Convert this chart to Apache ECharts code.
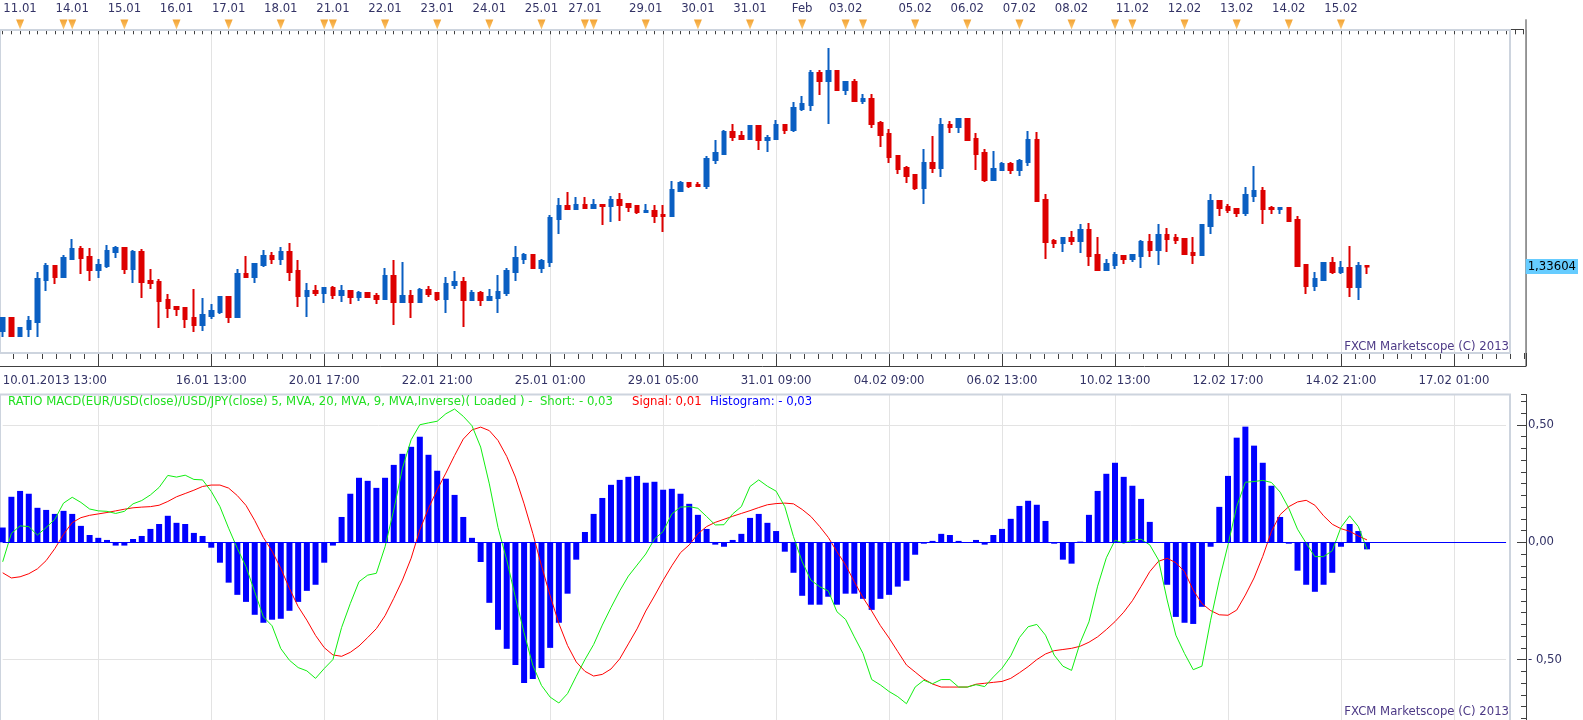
<!DOCTYPE html>
<html>
<head>
<meta charset="utf-8">
<script src="https://cdn.jsdelivr.net/npm/echarts@6.0.0/dist/echarts.min.js"></script>
<style>
  html, body { margin: 0; padding: 0; background: #fff; }
  #chart { width: 1583px; height: 720px; }
</style>
</head>
<body>
<div id="chart"></div>
<script>
// 4h candles, EUR/USD
const opens = [
  1.3296, 1.3309, 1.3291, 1.3298, 1.3305, 1.3347, 1.3361, 1.3350, 1.3368, 1.3378,
  1.3370, 1.3357, 1.3361, 1.3375, 1.3379, 1.3358, 1.3375, 1.3346, 1.3345, 1.3327,
  1.3320, 1.3319, 1.3309, 1.3302, 1.3311, 1.3315, 1.3330, 1.3310, 1.3353, 1.3350,
  1.3362, 1.3371, 1.3368, 1.3375, 1.3356, 1.3331, 1.3336, 1.3334, 1.3339, 1.3332,
  1.3336, 1.3330, 1.3334, 1.3331, 1.3328, 1.3351, 1.3325, 1.3331, 1.3325, 1.3337,
  1.3334, 1.3328, 1.3342, 1.3345, 1.3327, 1.3334, 1.3327, 1.3329, 1.3334, 1.3355,
  1.3368, 1.3372, 1.3359, 1.3365, 1.3408, 1.3421, 1.3418, 1.3422, 1.3419, 1.3422,
  1.3421, 1.3427, 1.3423, 1.3421, 1.3415, 1.3416, 1.3412, 1.3411, 1.3436, 1.3444,
  1.3442, 1.3441, 1.3467, 1.3473, 1.3495, 1.3491, 1.3488, 1.3501, 1.3487, 1.3488,
  1.3502, 1.3497, 1.3518, 1.3522, 1.3554, 1.3546, 1.3556, 1.3537, 1.3545, 1.3526,
  1.3528, 1.3504, 1.3493, 1.3471, 1.3459, 1.3452, 1.3439, 1.3464, 1.3459, 1.3502,
  1.3500, 1.3508, 1.3488, 1.3474, 1.3447, 1.3457, 1.3463, 1.3457, 1.3465, 1.3487,
  1.3427, 1.3386, 1.3384, 1.3389, 1.3386, 1.3397, 1.3372, 1.3357, 1.3362, 1.3371,
  1.3368, 1.3371, 1.3385, 1.3377, 1.3392, 1.3389, 1.3388, 1.3374, 1.3372, 1.3401,
  1.3426, 1.3420, 1.3418, 1.3414, 1.3431, 1.3436, 1.3419, 1.3418, 1.3419, 1.3407,
  1.3362, 1.3341, 1.3347, 1.3364, 1.3355, 1.3359, 1.3340, 1.3361
];
const closes = [
  1.3309, 1.3291, 1.3299, 1.3306, 1.3348, 1.3361, 1.3350, 1.3369, 1.3378, 1.3369,
  1.3357, 1.3362, 1.3376, 1.3379, 1.3358, 1.3375, 1.3345, 1.3344, 1.3326, 1.3319,
  1.3318, 1.3308, 1.3302, 1.3312, 1.3316, 1.3330, 1.3310, 1.3353, 1.3350, 1.3363,
  1.3371, 1.3368, 1.3375, 1.3355, 1.3331, 1.3336, 1.3334, 1.3339, 1.3332, 1.3336,
  1.3330, 1.3334, 1.3330, 1.3328, 1.3351, 1.3325, 1.3331, 1.3325, 1.3337, 1.3333,
  1.3328, 1.3343, 1.3345, 1.3327, 1.3334, 1.3327, 1.3330, 1.3335, 1.3356, 1.3369,
  1.3372, 1.3359, 1.3366, 1.3409, 1.3421, 1.3418, 1.3422, 1.3419, 1.3422, 1.3421,
  1.3427, 1.3422, 1.3420, 1.3415, 1.3416, 1.3411, 1.3411, 1.3437, 1.3444, 1.3441,
  1.3441, 1.3468, 1.3474, 1.3495, 1.3490, 1.3488, 1.3501, 1.3487, 1.3489, 1.3502,
  1.3497, 1.3519, 1.3523, 1.3554, 1.3546, 1.3556, 1.3537, 1.3545, 1.3526, 1.3528,
  1.3503, 1.3492, 1.3470, 1.3458, 1.3451, 1.3439, 1.3464, 1.3459, 1.3502, 1.3500,
  1.3508, 1.3487, 1.3473, 1.3447, 1.3458, 1.3463, 1.3457, 1.3466, 1.3487, 1.3426,
  1.3385, 1.3384, 1.3389, 1.3386, 1.3397, 1.3371, 1.3357, 1.3363, 1.3372, 1.3368,
  1.3372, 1.3385, 1.3377, 1.3392, 1.3388, 1.3387, 1.3373, 1.3372, 1.3402, 1.3426,
  1.3419, 1.3417, 1.3414, 1.3432, 1.3436, 1.3418, 1.3418, 1.3419, 1.3406, 1.3361,
  1.3341, 1.3348, 1.3364, 1.3355, 1.3359, 1.3340, 1.3361, 1.33604
];
const highs = [
  1.3309, 1.3309, 1.3300, 1.3311, 1.3355, 1.3364, 1.3361, 1.3372, 1.3388, 1.3381,
  1.3379, 1.3368, 1.3382, 1.3381, 1.3380, 1.3377, 1.3378, 1.3358, 1.3348, 1.3333,
  1.3320, 1.3319, 1.3338, 1.3329, 1.3323, 1.3331, 1.3330, 1.3358, 1.3371, 1.3364,
  1.3377, 1.3375, 1.3380, 1.3384, 1.3367, 1.3344, 1.3342, 1.3340, 1.3341, 1.3342,
  1.3336, 1.3336, 1.3334, 1.3334, 1.3359, 1.3367, 1.3365, 1.3337, 1.3339, 1.3341,
  1.3335, 1.3350, 1.3356, 1.3350, 1.3337, 1.3336, 1.3338, 1.3352, 1.3359, 1.3381,
  1.3374, 1.3373, 1.3368, 1.3412, 1.3429, 1.3435, 1.3430, 1.3430, 1.3428, 1.3423,
  1.3431, 1.3434, 1.3423, 1.3422, 1.3423, 1.3422, 1.3422, 1.3446, 1.3446, 1.3444,
  1.3445, 1.3471, 1.3487, 1.3497, 1.3503, 1.3496, 1.3501, 1.3501, 1.3492, 1.3507,
  1.3502, 1.3525, 1.3531, 1.3557, 1.3557, 1.3579, 1.3556, 1.3545, 1.3548, 1.3533,
  1.3533, 1.3506, 1.3498, 1.3471, 1.3461, 1.3452, 1.3478, 1.3491, 1.3509, 1.3506,
  1.3508, 1.3508, 1.3494, 1.3478, 1.3476, 1.3465, 1.3465, 1.3468, 1.3496, 1.3495,
  1.3433, 1.3388, 1.3389, 1.3396, 1.3403, 1.3404, 1.3390, 1.3368, 1.3375, 1.3371,
  1.3372, 1.3387, 1.3393, 1.3403, 1.3399, 1.3393, 1.3388, 1.3390, 1.3402, 1.3433,
  1.3426, 1.3423, 1.3418, 1.3440, 1.3461, 1.3440, 1.3421, 1.3419, 1.3420, 1.3411,
  1.3362, 1.3355, 1.3364, 1.3370, 1.3366, 1.3381, 1.3365, 1.3362
];
const lows = [
  1.3290, 1.3291, 1.3291, 1.3290, 1.3290, 1.3336, 1.3343, 1.3350, 1.3368, 1.3353,
  1.3346, 1.3349, 1.3359, 1.3369, 1.3353, 1.3344, 1.3329, 1.3338, 1.3299, 1.3309,
  1.3311, 1.3299, 1.3295, 1.3296, 1.3308, 1.3313, 1.3304, 1.3310, 1.3350, 1.3344,
  1.3360, 1.3363, 1.3362, 1.3346, 1.3320, 1.3310, 1.3331, 1.3324, 1.3328, 1.3325,
  1.3323, 1.3326, 1.3329, 1.3323, 1.3327, 1.3302, 1.3325, 1.3309, 1.3325, 1.3330,
  1.3326, 1.3314, 1.3338, 1.3300, 1.3327, 1.3321, 1.3327, 1.3314, 1.3331, 1.3346,
  1.3363, 1.3359, 1.3354, 1.3360, 1.3393, 1.3418, 1.3418, 1.3418, 1.3418, 1.3402,
  1.3405, 1.3406, 1.3415, 1.3413, 1.3415, 1.3404, 1.3395, 1.3411, 1.3436, 1.3439,
  1.3440, 1.3438, 1.3463, 1.3472, 1.3486, 1.3488, 1.3488, 1.3477, 1.3475, 1.3487,
  1.3493, 1.3495, 1.3516, 1.3516, 1.3532, 1.3503, 1.3537, 1.3532, 1.3526, 1.3523,
  1.3499, 1.3480, 1.3464, 1.3453, 1.3444, 1.3437, 1.3423, 1.3454, 1.3450, 1.3494,
  1.3494, 1.3487, 1.3457, 1.3445, 1.3447, 1.3456, 1.3453, 1.3451, 1.3461, 1.3426,
  1.3368, 1.3379, 1.3375, 1.3382, 1.3374, 1.3361, 1.3357, 1.3357, 1.3358, 1.3363,
  1.3365, 1.3359, 1.3370, 1.3362, 1.3375, 1.3383, 1.3372, 1.3363, 1.3371, 1.3393,
  1.3411, 1.3414, 1.3410, 1.3411, 1.3425, 1.3403, 1.3413, 1.3413, 1.3405, 1.3361,
  1.3333, 1.3336, 1.3346, 1.3353, 1.3353, 1.3330, 1.3327, 1.3353
];

// RATIO MACD indicator
const histogram = [
  0.063, 0.194, 0.219, 0.207, 0.147, 0.138, 0.121, 0.134, 0.121, 0.070,
  0.031, 0.019, 0.010, -0.014, -0.014, 0.014, 0.027, 0.057, 0.078, 0.113,
  0.083, 0.078, 0.040, 0.027, -0.023, -0.087, -0.172, -0.224, -0.254, -0.309,
  -0.343, -0.330, -0.326, -0.292, -0.254, -0.207, -0.181, -0.087, -0.014, 0.108,
  0.207, 0.275, 0.262, 0.232, 0.275, 0.330, 0.377, 0.407, 0.450, 0.373,
  0.305, 0.271, 0.202, 0.108, 0.019, -0.084, -0.258, -0.373, -0.454, -0.523,
  -0.600, -0.583, -0.536, -0.450, -0.343, -0.219, -0.074, 0.044, 0.121, 0.189,
  0.245, 0.266, 0.279, 0.283, 0.254, 0.258, 0.224, 0.228, 0.207, 0.164,
  0.117, 0.057, -0.010, -0.019, 0.010, 0.036, 0.104, 0.121, 0.083, 0.048,
  -0.040, -0.130, -0.228, -0.266, -0.266, -0.232, -0.266, -0.219, -0.219, -0.241,
  -0.288, -0.241, -0.224, -0.189, -0.164, -0.053, -0.006, 0.006, 0.036, 0.031,
  0.006, 0.001, 0.010, -0.010, 0.031, 0.057, 0.100, 0.155, 0.177, 0.160,
  0.091, -0.006, -0.074, -0.091, 0.003, 0.117, 0.219, 0.292, 0.339, 0.279,
  0.241, 0.185, 0.087, -0.002, -0.181, -0.318, -0.343, -0.348, -0.275, -0.019,
  0.151, 0.283, 0.446, 0.493, 0.412, 0.339, 0.241, 0.108, -0.006, -0.121,
  -0.181, -0.211, -0.181, -0.130, -0.019, 0.078, 0.048, -0.030
];
const shortLine = [
  -0.083, 0.038, 0.070, 0.067, 0.031, 0.063, 0.098, 0.167, 0.192, 0.170,
  0.142, 0.134, 0.132, 0.123, 0.132, 0.164, 0.178, 0.202, 0.234, 0.285,
  0.278, 0.286, 0.268, 0.266, 0.217, 0.152, 0.060, -0.026, -0.104, -0.211,
  -0.318, -0.356, -0.453, -0.503, -0.534, -0.548, -0.580, -0.538, -0.500, -0.363,
  -0.261, -0.168, -0.140, -0.132, -0.019, 0.138, 0.316, 0.437, 0.501, 0.509,
  0.516, 0.548, 0.568, 0.537, 0.497, 0.406, 0.249, 0.063, -0.075, -0.235,
  -0.386, -0.524, -0.610, -0.660, -0.685, -0.645, -0.571, -0.500, -0.436, -0.353,
  -0.278, -0.207, -0.144, -0.097, -0.050, 0.014, 0.046, 0.121, 0.150, 0.152,
  0.145, 0.110, 0.074, 0.075, 0.121, 0.152, 0.238, 0.266, 0.239, 0.218,
  0.152, 0.024, -0.083, -0.161, -0.189, -0.207, -0.296, -0.329, -0.403, -0.474,
  -0.585, -0.608, -0.636, -0.658, -0.688, -0.617, -0.588, -0.603, -0.585, -0.585,
  -0.617, -0.617, -0.607, -0.615, -0.574, -0.537, -0.484, -0.406, -0.360, -0.350,
  -0.396, -0.481, -0.528, -0.546, -0.427, -0.339, -0.187, -0.066, 0.009, -0.004,
  0.010, 0.013, -0.011, -0.075, -0.246, -0.396, -0.474, -0.543, -0.528, -0.332,
  -0.161, -0.011, 0.152, 0.256, 0.259, 0.264, 0.255, 0.214, 0.145, 0.056,
  -0.004, -0.061, -0.061, -0.036, 0.064, 0.113, 0.067, -0.030
];
const signalLine = [
  -0.130, -0.152, -0.147, -0.134, -0.113, -0.078, -0.027, 0.034, 0.084, 0.105,
  0.115, 0.121, 0.127, 0.134, 0.141, 0.147, 0.150, 0.152, 0.158, 0.174,
  0.194, 0.208, 0.222, 0.238, 0.244, 0.244, 0.231, 0.199, 0.157, 0.093,
  0.020, -0.038, -0.111, -0.197, -0.274, -0.332, -0.397, -0.449, -0.480, -0.486,
  -0.469, -0.442, -0.406, -0.368, -0.313, -0.239, -0.161, -0.068, 0.053, 0.145,
  0.224, 0.295, 0.370, 0.440, 0.479, 0.491, 0.476, 0.434, 0.366, 0.278,
  0.164, 0.038, -0.100, -0.228, -0.346, -0.440, -0.510, -0.550, -0.570, -0.563,
  -0.540, -0.497, -0.433, -0.369, -0.293, -0.229, -0.162, -0.100, -0.044, -0.011,
  0.036, 0.067, 0.085, 0.098, 0.111, 0.123, 0.135, 0.148, 0.160, 0.165,
  0.167, 0.164, 0.140, 0.110, 0.068, 0.021, -0.040, -0.097, -0.168, -0.236,
  -0.293, -0.355, -0.408, -0.466, -0.523, -0.553, -0.583, -0.604, -0.617, -0.617,
  -0.617, -0.617, -0.605, -0.601, -0.597, -0.593, -0.580, -0.556, -0.530, -0.500,
  -0.476, -0.462, -0.457, -0.452, -0.443, -0.426, -0.403, -0.372, -0.338, -0.298,
  -0.249, -0.188, -0.125, -0.081, -0.068, -0.087, -0.125, -0.204, -0.261, -0.291,
  -0.309, -0.311, -0.289, -0.225, -0.152, -0.060, 0.046, 0.118, 0.152, 0.172,
  0.179, 0.158, 0.113, 0.077, 0.058, 0.047, 0.027, 0.010
];

// time axis labels (candle index -> text)
const timeTickIdx = [0, 24, 37, 50, 63, 76, 89, 102, 115, 128, 141, 154, 167];
const timeTickText = ['10.01.2013 13:00', '16.01 13:00', '20.01 17:00', '22.01 21:00', '25.01 01:00',
  '29.01 05:00', '31.01 09:00', '04.02 09:00', '06.02 13:00', '10.02 13:00', '12.02 17:00',
  '14.02 21:00', '17.02 01:00'];
const dayIdx = [2, 8, 14, 20, 26, 32, 38, 44, 50, 56, 62, 67, 74, 80, 86, 92, 97, 105, 111, 117, 123, 130, 136, 142, 148, 154];
const dayText = ['11.01', '14.01', '15.01', '16.01', '17.01', '18.01', '21.01', '22.01', '23.01', '24.01', '25.01',
  '27.01', '29.01', '30.01', '31.01', 'Feb', '03.02', '05.02', '06.02', '07.02', '08.02', '11.02', '12.02',
  '13.02', '14.02', '15.02'];
const dayMarkIdx = [2, 7, 8, 14, 20, 26, 32, 37, 38, 44, 50, 56, 62, 67, 68, 74, 80, 86, 92, 97, 99,
  105, 111, 117, 123, 128, 130, 136, 142, 148, 154];

// layout
const STEP = 8.69;           // px per candle
const X0 = 2.7;              // x of first candle
const N_PLOT = 174;          // categories across the panes
const N_TOP = 176;
const GX = X0 - 2 * STEP;    // start of the 13-candle grid axis
const AXIS_X = 1526;
const GMAX = (AXIS_X - GX) / STEP;
const FONT = 'DejaVu Sans';
const FS = 11.7;
const TXT = '#333366';
const AX = '#404040';

const plotCats = Array.from({ length: N_PLOT }, (_, i) => {
  const k = timeTickIdx.indexOf(i);
  return k >= 0 ? timeTickText[k] : '';
});
const topCats = Array.from({ length: N_TOP }, (_, i) => {
  const k = dayIdx.indexOf(i);
  return k >= 0 ? dayText[k] : '';
});
const ohlc = opens.map((o, i) => [o, closes[i], lows[i], highs[i]]);
const lastClose = closes[closes.length - 1];

function macdLabel(v) {
  if (Math.abs(v) < 1e-9) return '0,00';
  const s = Math.abs(v).toFixed(2).replace('.', ',');
  return v < 0 ? '- ' + s : s;
}

const chart = echarts.init(document.getElementById('chart'), null, { renderer: 'canvas' });

const gridAxis = (gi, showTicks) => ({
  type: 'value', gridIndex: gi, min: 0, max: GMAX, interval: 13,
  axisLine: { show: showTicks, onZero: false, lineStyle: { color: AX } },
  axisTick: { show: showTicks, inside: true, length: 11, lineStyle: { color: AX } },
  axisLabel: { show: false },
  splitLine: { show: true, lineStyle: { color: '#e3e3e3', width: 1 } },
  offset: showTicks ? 13 : 0
});

const textStyle = (x, y, text, fill, align) => ({
  type: 'text', z: 5, silent: true,
  style: {
    x, y, text, fill, font: FS + 'px "DejaVu Sans"',
    align: align || 'left', textAlign: align || 'left',
    verticalAlign: 'middle', textVerticalAlign: 'middle'
  }
});

chart.setOption({
  animation: false,
  backgroundColor: '#ffffff',
  grid: [
    { left: X0, top: 30, width: (N_PLOT - 1) * STEP, height: 323, outerBoundsMode: 'none' },
    { left: GX, top: 30, width: AXIS_X - GX, height: 323, outerBoundsMode: 'none' },
    { left: X0, top: 19.3, width: (N_TOP - 1) * STEP, height: 10, outerBoundsMode: 'none' },
    { left: X0, top: 394.5, width: (N_PLOT - 1) * STEP, height: 382.4, outerBoundsMode: 'none' },
    { left: GX, top: 394.5, width: AXIS_X - GX, height: 330, outerBoundsMode: 'none' }
  ],
  xAxis: [
    { // 0: candles + bottom time labels
      type: 'category', gridIndex: 0, data: plotCats, boundaryGap: false,
      axisLine: { show: false }, axisTick: { show: false }, splitLine: { show: false },
      axisLabel: { interval: 0, margin: 22, color: TXT, fontSize: FS, fontFamily: FONT, alignMinLabel: 'left' }
    },
    gridAxis(1, true), // 1: gridlines + bottom ticks
    { // 2: minor ticks of bottom axis
      type: 'value', gridIndex: 1, min: 0, max: GMAX, interval: 1.625, offset: 13,
      axisLine: { show: false }, axisLabel: { show: false }, splitLine: { show: false },
      axisTick: { show: true, inside: true, length: 6, lineStyle: { color: AX } }
    },
    { // 3: top day axis
      type: 'category', gridIndex: 2, data: topCats, boundaryGap: false, position: 'top',
      axisLine: { show: true, lineStyle: { color: AX } },
      axisTick: { show: true, inside: true, interval: 0, length: 5, lineStyle: { color: AX } },
      axisLabel: { interval: 0, margin: 4, color: TXT, fontSize: FS, fontFamily: FONT },
      splitLine: { show: false }
    },
    { // 4: indicator
      type: 'category', gridIndex: 3, data: plotCats, boundaryGap: false, show: false
    },
    gridAxis(4, false) // 5: indicator gridlines
  ],
  yAxis: [
    { type: 'value', gridIndex: 0, min: 1.3274, max: 1.3597, show: false, position: 'right' },
    { type: 'value', gridIndex: 1, min: 0, max: 1, show: false },
    { type: 'value', gridIndex: 2, min: 0, max: 1, show: false },
    { // 3: indicator scale
      type: 'value', gridIndex: 3, min: -1, max: 0.63, interval: 0.5, position: 'right', offset: AXIS_X - (X0 + (N_PLOT - 1) * STEP),
      axisLine: { show: true, lineStyle: { color: AX } },
      axisTick: { show: true, inside: true, length: 9, lineStyle: { color: AX } },
      axisLabel: { margin: 2, color: TXT, fontSize: FS, fontFamily: FONT, formatter: macdLabel, showMaxLabel: false, showMinLabel: false },
      splitLine: { show: true, lineStyle: { color: '#e3e3e3' } }
    },
    { // 4: indicator minor ticks
      type: 'value', gridIndex: 3, min: -1, max: 0.63, interval: 0.05, position: 'right', offset: AXIS_X - (X0 + (N_PLOT - 1) * STEP),
      axisLine: { show: false }, axisLabel: { show: false }, splitLine: { show: false },
      axisTick: { show: true, inside: true, length: 5, lineStyle: { color: AX } }
    },
    { type: 'value', gridIndex: 4, min: 0, max: 1, show: false }
  ],
  series: [
    {
      type: 'candlestick', xAxisIndex: 0, yAxisIndex: 0, data: ohlc, clip: false,
      barWidth: 4,
      itemStyle: { color: '#0a5fc2', color0: '#dd0000', borderColor: '#0a5fc2', borderColor0: '#dd0000', borderWidth: 2 },
      markLine: {
        silent: true, symbol: 'none', animation: false, precision: 5,
        lineStyle: { color: 'rgba(0,0,0,0)', width: 0 },
        label: {
          show: true, position: 'end', distance: 19.6,
          formatter: () => lastClose.toFixed(5).replace('.', ','),
          backgroundColor: '#66ccff', color: '#000', padding: [2, 2, 1, 2],
          fontSize: FS, fontFamily: FONT
        },
        data: [{ yAxis: lastClose }]
      }
    },
    {
      type: 'scatter', xAxisIndex: 3, yAxisIndex: 2, data: dayMarkIdx.map(i => [i, 0.48]),
      symbol: 'triangle', symbolRotate: 180, symbolSize: [8, 10], clip: false,
      itemStyle: {
        color: new echarts.graphic.LinearGradient(0, 0, 0, 1, [
          { offset: 0, color: '#fdb94a' }, { offset: 1, color: '#ef8c00' }
        ])
      }
    },
    {
      type: 'bar', xAxisIndex: 4, yAxisIndex: 3, data: histogram, barWidth: 6, clip: false,
      itemStyle: { color: '#0000ff' },
      markLine: {
        silent: true, symbol: 'none', animation: false, label: { show: false },
        lineStyle: { color: '#0000ff', width: 1, type: 'solid' },
        data: [{ yAxis: 0 }]
      }
    },
    {
      type: 'line', xAxisIndex: 4, yAxisIndex: 3, data: signalLine, showSymbol: false, symbol: 'none',
      lineStyle: { color: '#ff0000', width: 1 }
    },
    {
      type: 'line', xAxisIndex: 4, yAxisIndex: 3, data: shortLine, showSymbol: false, symbol: 'none',
      lineStyle: { color: '#11ee11', width: 1 }
    }
  ],
  graphic: [
    { type: 'rect', z: 1, silent: true, shape: { x: 0, y: 30, width: 1510, height: 323 },
      style: { fill: 'none', stroke: '#cdd4de', lineWidth: 2 } },
    { type: 'rect', z: 1, silent: true, shape: { x: 0, y: 394.5, width: 1510, height: 340 },
      style: { fill: 'none', stroke: '#cdd4de', lineWidth: 2 } },
    { type: 'line', z: 1, silent: true, shape: { x1: AXIS_X, y1: 19.3, x2: AXIS_X, y2: 366 },
      style: { stroke: AX, lineWidth: 1 } },
    textStyle(1509, 347, 'FXCM Marketscope (C) 2013', '#4d3a86', 'right'),
    textStyle(1509, 712, 'FXCM Marketscope (C) 2013', '#4d3a86', 'right'),
    textStyle(8, 402, 'RATIO MACD(EUR/USD(close)/USD/JPY(close) 5, MVA, 20, MVA, 9, MVA,Inverse)( Loaded ) -  Short: - 0,03', '#22e022'),
    textStyle(632, 402, 'Signal: 0,01', '#ff0000'),
    textStyle(710, 402, 'Histogram: - 0,03', '#0000ff')
  ]
});
</script>
</body>
</html>
